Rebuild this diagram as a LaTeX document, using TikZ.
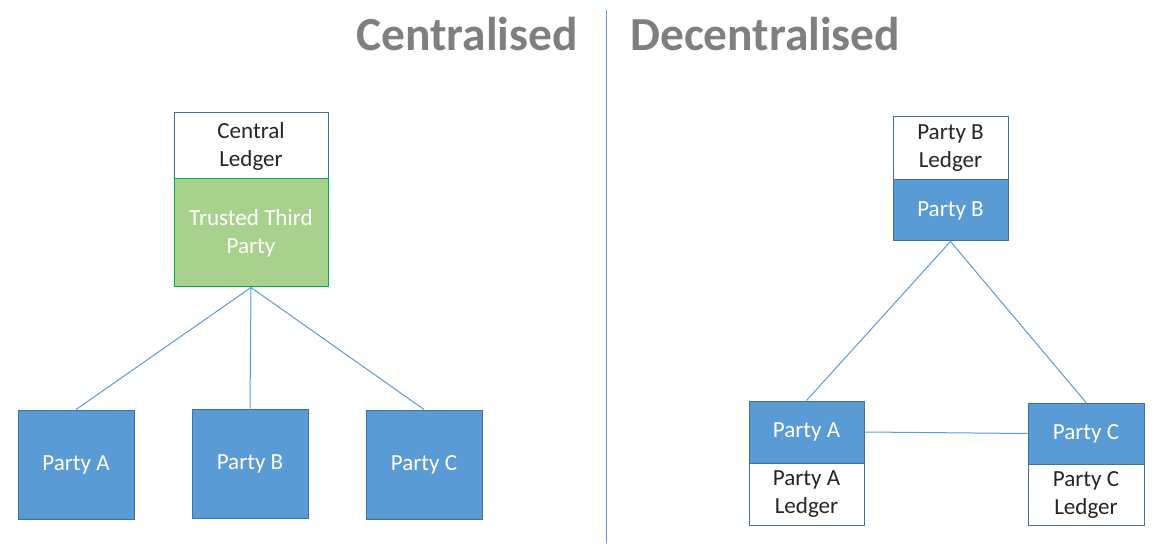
\documentclass[tikz,border=0pt]{standalone}
\usepackage{fontspec}
\setmainfont{Carlito}
\definecolor{blueFill}{HTML}{5B9BD5}
\definecolor{blueEdge}{HTML}{41719C}
\definecolor{greenFill}{HTML}{A9D18E}
\definecolor{greenEdge}{HTML}{00B050}
\definecolor{txt}{HTML}{262626}
\definecolor{titlegray}{HTML}{7F7F7F}
\def\u{0.75pt}
\tikzset{
  bx/.style={draw=blueEdge, line width=\u, inner sep=0pt, align=center,
    font=\fontsize{17.3pt}{21pt}\selectfont},
  ledger/.style={bx, fill=white, text=txt},
  party/.style={bx, fill=blueFill, text=white},
  ttp/.style={bx, fill=greenFill, draw=greenEdge, text=white},
  link/.style={draw=blueFill, line width=\u},
  title/.style={font=\fontsize{35.6pt}{42pt}\selectfont\bfseries, text=titlegray, inner sep=0pt}
}
\begin{document}
\begin{tikzpicture}[x=0.75pt,y=-0.75pt]
\useasboundingbox (0,0) rectangle (1171,545);
% titles and divider
\node[title, anchor=base east] (tc) at (578,51) {Centralised};
\node[title, anchor=base west] (td) at (630,51) {Decentralised};
\coordinate (dtop) at (606,10);
\coordinate (dbot) at (606,543);
\draw[link] (dtop) -- (dbot);
% centralised
\node[ledger, minimum width=154*\u, minimum height=66*\u] (cl) at (251,146) {Central\\Ledger};
\node[ttp, minimum width=154*\u, minimum height=108*\u] (ttp) at (251,233) {Trusted Third\\Party};
\node[party, minimum width=116*\u, minimum height=109*\u] (pa) at (76,464.5) {Party A};
\node[party, minimum width=116*\u, minimum height=109*\u] (pb) at (250,463.5) {Party B};
\node[party, minimum width=116*\u, minimum height=109*\u] (pc) at (424,464.5) {Party C};
\draw[link] (ttp.south) -- (pa.north);
\draw[link] (ttp.south) -- (pb.north);
\draw[link] (ttp.south) -- (pc.north);
% decentralised
\node[ledger, minimum width=115*\u, minimum height=63*\u] (blg) at (950.5,148.5) {Party B\\Ledger};
\node[party, minimum width=115*\u, minimum height=61*\u] (dpb) at (950.5,210.5) {Party B};
\node[party, minimum width=115*\u, minimum height=62*\u] (dpa) at (806.5,432) {Party A};
\node[ledger, minimum width=115*\u, minimum height=62*\u] (alg) at (806.5,494) {Party A\\Ledger};
\node[party, minimum width=116*\u, minimum height=61*\u] (dpc) at (1086,433.5) {Party C};
\node[ledger, minimum width=116*\u, minimum height=61*\u] (clg) at (1086,494.5) {Party C\\Ledger};
\draw[link] (dpb.south) -- (dpa.north);
\draw[link] (dpb.south) -- (dpc.north);
\draw[link] (dpa.east) -- (dpc.west);
\end{tikzpicture}
\end{document}
